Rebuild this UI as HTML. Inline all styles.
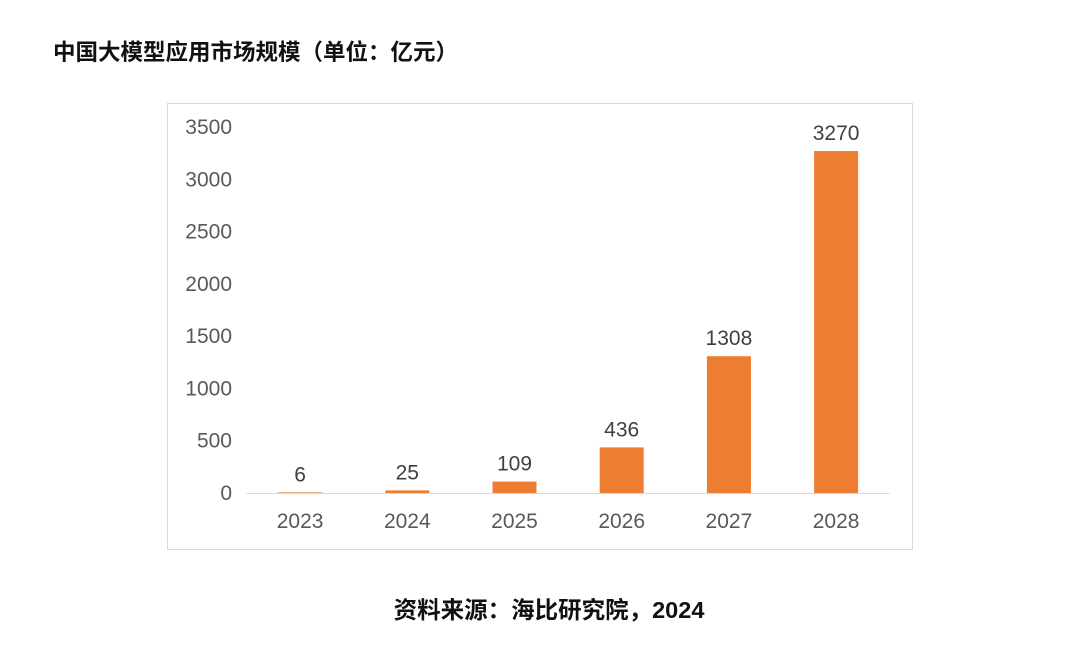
<!DOCTYPE html>
<html><head><meta charset="utf-8"><style>
body{margin:0;background:#fff;width:1080px;height:664px;overflow:hidden;font-family:"Liberation Sans","Noto Sans CJK SC",sans-serif}
#title{position:absolute;left:53px;top:35px;font-size:22.5px;font-weight:bold;color:#111}
#src{position:absolute;left:9px;width:1080px;top:591px;text-align:center;font-size:23.5px;font-weight:bold;color:#111}
</style></head><body>
<div id="title">中国大模型应用市场规模（单位：亿元）</div>
<svg id="chart" width="1080" height="664" style="position:absolute;left:0;top:0">
<rect x="167.5" y="103.5" width="745" height="446" fill="#fff" stroke="#d9d9d9"/>
</svg>
<div id="src">资料来源：海比研究院，2024</div>
<script>
const categories=["2023","2024","2025","2026","2027","2028"];
const values=[6,25,109,436,1308,3270];
const yTicks=[0,500,1000,1500,2000,2500,3000,3500];
const svg=document.getElementById('chart');
const NS='http://www.w3.org/2000/svg';
const y0=493,yTop=127,yMax=3500;
const yScale=v=>y0-(v/yMax)*(y0-yTop);
const x0=246.5,step=107.2;
const xScale=i=>x0+step*(i+0.5);
const bw=44;
function mk(t,a){const e=document.createElementNS(NS,t);for(const k in a)e.setAttribute(k,a[k]);svg.appendChild(e);return e;}
yTicks.forEach(t=>{const e=mk('text',{x:232,y:yScale(t)+7,'text-anchor':'end','font-size':21,fill:'#595959','font-family':'Liberation Sans,sans-serif'});e.textContent=t;

});
const ax=mk('line',{x1:x0,x2:x0+step*6,y1:y0+0.5,y2:y0+0.5,stroke:'#d9d9d9'});


categories.forEach((c,i)=>{
const cx=xScale(i),y=yScale(values[i]);
const r=mk('rect',{x:cx-bw/2,y:y,width:bw,height:y0-y,fill:'#ed7d31'});


const l=mk('text',{x:cx,y:y-11,'text-anchor':'middle','font-size':21,fill:'#404040','font-family':'Liberation Sans,sans-serif'});l.textContent=values[i];


const t=mk('text',{x:cx,y:528,'text-anchor':'middle','font-size':21,fill:'#595959','font-family':'Liberation Sans,sans-serif'});t.textContent=c;


});
</script>
</body></html>
